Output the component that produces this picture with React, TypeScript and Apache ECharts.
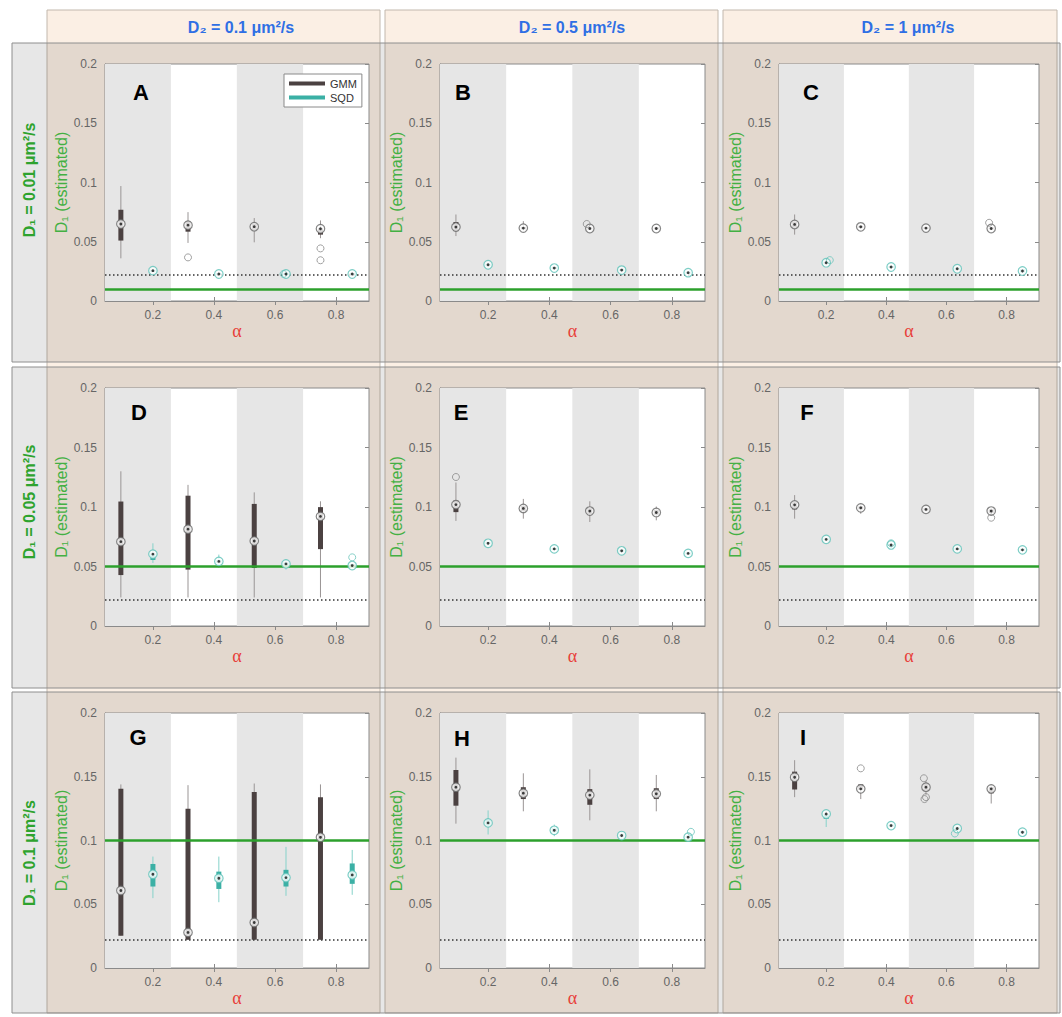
import React, { useEffect, useRef } from 'react';
import * as echarts from 'echarts';

// ---------- data ----------
const alphaTicks = [0.2, 0.4, 0.6, 0.8];
const alphaMin = 0.043;
const alphaMax = 0.908;
const bandEdges = [0.043, 0.259, 0.475, 0.692, 0.908];
const gmmAlpha = [0.095, 0.315, 0.532, 0.749];
const sqdAlpha = [0.2, 0.416, 0.636, 0.853];
const trueD1 = [0.01, 0.05, 0.1];
const lowerBound = 0.0222;
const colHeaders = ['D₂ = 0.1 μm²/s', 'D₂ = 0.5 μm²/s', 'D₂ = 1 μm²/s'];
const rowHeaders = ['D₁ = 0.01 μm²/s', 'D₁ = 0.05 μm²/s', 'D₁ = 0.1 μm²/s'];
const panelLetters = ['A', 'B', 'C', 'D', 'E', 'F', 'G', 'H', 'I'];
const legendNames = ['GMM', 'SQD'];

// each box: [low whisker, q1, median, q3, high whisker]
const gmmA = [[0.036, 0.051, 0.065, 0.077, 0.097], [0.049, 0.0585, 0.064, 0.067, 0.075], [0.0495, 0.06, 0.0627, 0.065, 0.07], [0.053, 0.056, 0.061, 0.0615, 0.068]];
const sqdA = [[0.024, 0.0248, 0.0256, 0.0262, 0.027], [0.0225, 0.0226, 0.0228, 0.023, 0.0232], [0.0225, 0.0226, 0.0228, 0.023, 0.0232], [0.0225, 0.0226, 0.0228, 0.023, 0.0232]];
const gmmOutA = [[0.315, 0.0368], [0.749, 0.0444], [0.749, 0.0344]];
const sqdOutA = [[0.628, 0.0228]];

const gmmB = [[0.0548, 0.059, 0.0624, 0.0666, 0.073], [0.0595, 0.0605, 0.0615, 0.0625, 0.0674], [0.0598, 0.0605, 0.0612, 0.062, 0.0628], [0.0598, 0.0605, 0.0612, 0.062, 0.0628]];
const sqdB = [[0.0295, 0.03, 0.0306, 0.031, 0.0316], [0.0268, 0.0273, 0.0278, 0.0283, 0.0288], [0.0252, 0.0256, 0.0261, 0.0266, 0.027], [0.023, 0.0235, 0.0239, 0.0243, 0.0247]];
const gmmOutB = [[0.522, 0.065]];
const sqdOutB: number[][] = [];

const gmmC = [[0.056, 0.062, 0.0646, 0.067, 0.073], [0.0608, 0.0618, 0.0626, 0.0634, 0.0642], [0.0598, 0.0607, 0.0615, 0.0622, 0.063], [0.0598, 0.0605, 0.0612, 0.062, 0.0628]];
const sqdC = [[0.031, 0.0316, 0.0323, 0.033, 0.0336], [0.0276, 0.0281, 0.0287, 0.0293, 0.0298], [0.0262, 0.0267, 0.0272, 0.0277, 0.0282], [0.0237, 0.0242, 0.0253, 0.0265, 0.027]];
const gmmOutC = [[0.742, 0.066]];
const sqdOutC = [[0.212, 0.0345]];

const gmmD = [[0.024, 0.0428, 0.0709, 0.1046, 0.13], [0.024, 0.0474, 0.0814, 0.1095, 0.1186], [0.024, 0.0488, 0.0714, 0.1026, 0.1123], [0.024, 0.0646, 0.0921, 0.0999, 0.1048]];
const sqdD = [[0.053, 0.0555, 0.0604, 0.0608, 0.0695], [0.049, 0.053, 0.0543, 0.0555, 0.06], [0.0474, 0.051, 0.0522, 0.0535, 0.0557], [0.049, 0.0495, 0.0508, 0.052, 0.053]];
const gmmOutD: number[][] = [];
const sqdOutD = [[0.853, 0.0577]];

const gmmE = [[0.0883, 0.0957, 0.102, 0.1054, 0.1206], [0.0902, 0.0965, 0.0988, 0.101, 0.1068], [0.0874, 0.094, 0.0966, 0.099, 0.1048], [0.0888, 0.0935, 0.0954, 0.0975, 0.1004]];
const sqdE = [[0.0675, 0.069, 0.0695, 0.07, 0.0715], [0.063, 0.064, 0.0648, 0.0655, 0.0665], [0.0615, 0.0625, 0.0632, 0.064, 0.065], [0.0595, 0.0603, 0.061, 0.0617, 0.0625]];
const gmmOutE = [[0.095, 0.1252]];
const sqdOutE: number[][] = [];

const gmmF = [[0.0902, 0.098, 0.1018, 0.104, 0.11], [0.0943, 0.098, 0.0993, 0.1005, 0.1026], [0.0955, 0.097, 0.098, 0.099, 0.1005], [0.0935, 0.095, 0.0966, 0.098, 0.0995]];
const sqdF = [[0.0715, 0.072, 0.0728, 0.0735, 0.0742], [0.066, 0.0672, 0.0681, 0.069, 0.07], [0.0635, 0.0642, 0.0648, 0.0655, 0.066], [0.0628, 0.0634, 0.064, 0.0646, 0.0652]];
const gmmOutF = [[0.749, 0.091]];
const sqdOutF = [[0.416, 0.0695]];

const gmmG = [[0.0253, 0.0253, 0.0608, 0.1405, 0.144], [0.0222, 0.0222, 0.0279, 0.125, 0.1434], [0.0222, 0.0222, 0.0357, 0.138, 0.1447], [0.0222, 0.0222, 0.1025, 0.134, 0.144]];
const sqdG = [[0.0548, 0.0639, 0.0735, 0.0816, 0.0874], [0.0516, 0.062, 0.0704, 0.0756, 0.0874], [0.0566, 0.0639, 0.0709, 0.077, 0.095], [0.0574, 0.066, 0.073, 0.082, 0.0926]];
const gmmOutG: number[][] = [];
const sqdOutG: number[][] = [];

const gmmH = [[0.1132, 0.1273, 0.1418, 0.1553, 0.165], [0.1229, 0.1325, 0.1371, 0.1418, 0.1527], [0.1158, 0.128, 0.1356, 0.1403, 0.1558], [0.1229, 0.1325, 0.1366, 0.141, 0.1514]];
const sqdH = [[0.1047, 0.1117, 0.1138, 0.1164, 0.1236], [0.1034, 0.1065, 0.108, 0.1095, 0.1125], [0.1015, 0.103, 0.1039, 0.1048, 0.107], [0.1008, 0.1018, 0.1026, 0.1035, 0.1045]];
const gmmOutH: number[][] = [];
const sqdOutH = [[0.862, 0.1068]];

const gmmI = [[0.134, 0.14, 0.1496, 0.154, 0.163], [0.1325, 0.1397, 0.1405, 0.144, 0.144], [0.136, 0.139, 0.1418, 0.1445, 0.147], [0.129, 0.137, 0.1405, 0.142, 0.1436]];
const sqdI = [[0.1106, 0.117, 0.1208, 0.121, 0.123], [0.11, 0.1108, 0.1117, 0.1125, 0.1133], [0.1075, 0.1085, 0.1094, 0.1103, 0.1112], [0.1048, 0.1058, 0.1065, 0.1072, 0.108]];
const gmmOutI = [[0.315, 0.1566], [0.525, 0.1488], [0.532, 0.134], [0.527, 0.1325]];
const sqdOutI = [[0.628, 0.1055]];

const gmmAll = [gmmA, gmmB, gmmC, gmmD, gmmE, gmmF, gmmG, gmmH, gmmI];
const sqdAll = [sqdA, sqdB, sqdC, sqdD, sqdE, sqdF, sqdG, sqdH, sqdI];
const gmmOutAll = [gmmOutA, gmmOutB, gmmOutC, gmmOutD, gmmOutE, gmmOutF, gmmOutG, gmmOutH, gmmOutI];
const sqdOutAll = [sqdOutA, sqdOutB, sqdOutC, sqdOutD, sqdOutE, sqdOutF, sqdOutG, sqdOutH, sqdOutI];

// ---------- layout / style ----------
const gridLeft = [105, 440, 779];
const gridWidth = [264, 265, 260];
const gridTop = [64, 388, 713];
const gridHeight = [237, 238, 255];
const colRects = [[47, 333], [385, 333], [723, 334]];
const rowRects = [[43, 319], [367, 321], [692, 321]];
const letterPos = [[141, 92], [463, 92], [811, 92], [139, 412], [461, 412], [807, 412], [138, 737], [462, 738], [803, 737]];
const rowLabelY = [180, 502, 853];
const colHeaderX = [241, 572, 908];

const GMM_COLOR = '#4b4141';
const GMM_WHISKER = '#9a9595';
const GMM_RING = '#666666';
const SQD_COLOR = '#3bb0a5';
const SQD_WHISKER = '#86d2ca';
const SQD_RING = '#5cc2b8';
const SANS = '"Liberation Sans", Arial, Helvetica, sans-serif';

const renderBody = (boxColor: string, whiskerColor: string) => (_p: any, api: any) => {
  const x = api.value(0);
  const lo = api.coord([x, api.value(1)]);
  const q1 = api.coord([x, api.value(2)]);
  const q3 = api.coord([x, api.value(4)]);
  const hi = api.coord([x, api.value(5)]);
  const bw = 5;
  const raw = q1[1] - q3[1];
  const h = Math.max(raw, 2);
  return {
    type: 'group',
    children: [
      { type: 'line', z2: 1, shape: { x1: lo[0], y1: lo[1], x2: hi[0], y2: hi[1] }, style: { stroke: whiskerColor, lineWidth: 1 } },
      { type: 'rect', z2: 2, shape: { x: q3[0] - bw / 2, y: q3[1] - (h - raw) / 2, width: bw, height: h }, style: { fill: boxColor } },
    ],
  };
};

function buildOption() {
  const grid: any[] = [];
  const xAxis: any[] = [];
  const yAxis: any[] = [];
  const series: any[] = [];
  const graphic: any[] = [];

  colRects.forEach(([x, w]) => {
    graphic.push({ type: 'rect', z: -20, silent: true, shape: { x, y: 10, width: w, height: 1003 }, style: { fill: '#fbefe4', stroke: '#c2b8ad', lineWidth: 1 } });
  });
  rowRects.forEach(([y, h]) => {
    graphic.push({ type: 'rect', z: -10, silent: true, shape: { x: 12, y, width: 1048, height: h }, style: { fill: 'rgba(0,0,0,0.095)', stroke: '#8e8e8e', lineWidth: 1 } });
  });
  colHeaders.forEach((t, c) => {
    graphic.push({ type: 'text', z: 50, x: colHeaderX[c], y: 27, style: { text: t, fill: '#2f6fe4', font: `bold 16px ${SANS}`, align: 'center', verticalAlign: 'middle' } });
  });
  rowHeaders.forEach((t, r) => {
    graphic.push({ type: 'text', z: 50, x: 29, y: rowLabelY[r], rotation: Math.PI / 2, style: { text: t, fill: '#2ea32e', font: `bold 16px ${SANS}`, align: 'center', verticalAlign: 'middle' } });
  });

  for (let i = 0; i < 9; i++) {
    const r = Math.floor(i / 3);
    const c = i % 3;
    grid.push({ left: gridLeft[c], top: gridTop[r], width: gridWidth[c], height: gridHeight[r], show: true, backgroundColor: '#ffffff', borderColor: '#8a8a8a', borderWidth: 1 });
    graphic.push({ type: 'text', z: 60, x: letterPos[i][0], y: letterPos[i][1], style: { text: panelLetters[i], fill: '#000', font: `bold 22px ${SANS}`, align: 'center', verticalAlign: 'middle' } });
  }

  const tickStyle = { show: true, inside: true, length: 4, lineStyle: { color: '#8a8a8a' } };
  for (let i = 0; i < 9; i++) {
    xAxis.push({
      gridIndex: i, type: 'value', min: alphaMin, max: alphaMax, position: 'bottom',
      axisLine: { show: true, lineStyle: { color: '#8a8a8a' } },
      axisTick: { ...tickStyle, customValues: alphaTicks },
      axisLabel: { customValues: alphaTicks, color: '#666', fontSize: 12, margin: 8, fontFamily: SANS },
      splitLine: { show: false },
      name: 'α', nameLocation: 'middle', nameGap: 18,
      nameTextStyle: { color: '#e8403a', fontSize: 18, fontFamily: '"Liberation Serif", "DejaVu Serif", serif' },
    });
  }
  for (let i = 0; i < 9; i++) {
    xAxis.push({
      gridIndex: i, type: 'value', min: alphaMin, max: alphaMax, position: 'top',
      axisLine: { show: false }, axisTick: { ...tickStyle, customValues: alphaTicks },
      axisLabel: { show: false }, splitLine: { show: false },
    });
  }
  for (let i = 0; i < 9; i++) {
    yAxis.push({
      gridIndex: i, type: 'value', min: 0, max: 0.2, interval: 0.05, position: 'left',
      axisLine: { show: true, lineStyle: { color: '#8a8a8a' } },
      axisTick: tickStyle,
      axisLabel: { color: '#666', fontSize: 12, margin: 8, fontFamily: SANS },
      splitLine: { show: false },
      name: 'D₁ (estimated)', nameLocation: 'middle', nameGap: 30, nameRotate: 90,
      nameTextStyle: { color: '#43b043', fontSize: 16, fontFamily: SANS },
    });
  }
  for (let i = 0; i < 9; i++) {
    yAxis.push({
      gridIndex: i, type: 'value', min: 0, max: 0.2, interval: 0.05, position: 'right',
      axisLine: { show: false }, axisTick: tickStyle, axisLabel: { show: false }, splitLine: { show: false },
    });
  }

  for (let i = 0; i < 9; i++) {
    const r = Math.floor(i / 3);
    const ax = { xAxisIndex: i, yAxisIndex: i };
    series.push({
      type: 'line', ...ax, data: [], z: 1, silent: true,
      markArea: {
        silent: true, itemStyle: { color: '#e6e6e6' },
        data: [[{ xAxis: bandEdges[0] }, { xAxis: bandEdges[1] }], [{ xAxis: bandEdges[2] }, { xAxis: bandEdges[3] }]],
      },
    });
    series.push({
      type: 'custom', name: 'GMM', ...ax, z: 3, silent: true, itemStyle: { color: GMM_COLOR },
      encode: { x: 0, y: [1, 2, 3, 4, 5] },
      data: gmmAll[i].map((b, k) => [gmmAlpha[k], ...b]),
      renderItem: renderBody(GMM_COLOR, GMM_WHISKER),
    });
    series.push({
      type: 'custom', name: 'SQD', ...ax, z: 3, silent: true, itemStyle: { color: SQD_COLOR },
      encode: { x: 0, y: [1, 2, 3, 4, 5] },
      data: sqdAll[i].map((b, k) => [sqdAlpha[k], ...b]),
      renderItem: renderBody(SQD_COLOR, SQD_WHISKER),
    });
    series.push({
      type: 'line', ...ax, data: [], z: 4, silent: true,
      markLine: {
        silent: true, precision: 5, symbol: ['none', 'none'], label: { show: false }, emphasis: { disabled: true },
        data: [
          { yAxis: trueD1[r], lineStyle: { color: '#2ca02c', width: 2.5, type: 'solid' } },
          { yAxis: lowerBound, lineStyle: { color: '#333', width: 1.5, type: [1.5, 2.5] } },
        ],
      },
    });
    // median markers: white ring + black centre dot
    series.push({
      type: 'scatter', name: 'GMM median', ...ax, z: 5, silent: true, symbol: 'circle', symbolSize: 8.5,
      itemStyle: { color: '#ffffff', borderColor: GMM_RING, borderWidth: 1.2 },
      data: gmmAll[i].map((b, k) => [gmmAlpha[k], b[2]]),
    });
    series.push({
      type: 'scatter', name: 'SQD median', ...ax, z: 5, silent: true, symbol: 'circle', symbolSize: 8.5,
      itemStyle: { color: '#ffffff', borderColor: SQD_RING, borderWidth: 1.2 },
      data: sqdAll[i].map((b, k) => [sqdAlpha[k], b[2]]),
    });
    series.push({
      type: 'scatter', name: 'median dot', ...ax, z: 6, silent: true, symbol: 'circle', symbolSize: 2.8,
      itemStyle: { color: '#111111' },
      data: [...gmmAll[i].map((b, k) => [gmmAlpha[k], b[2]]), ...sqdAll[i].map((b, k) => [sqdAlpha[k], b[2]])],
    });
    series.push({
      type: 'scatter', name: 'GMM outliers', ...ax, z: 5, silent: true, symbol: 'circle', symbolSize: 7,
      itemStyle: { color: 'rgba(0,0,0,0)', borderColor: '#8a8a8a', borderWidth: 1 },
      data: gmmOutAll[i],
    });
    series.push({
      type: 'scatter', name: 'SQD outliers', ...ax, z: 5, silent: true, symbol: 'circle', symbolSize: 7,
      itemStyle: { color: 'rgba(0,0,0,0)', borderColor: '#6cc5bb', borderWidth: 1 },
      data: sqdOutAll[i],
    });
  }

  return {
    animation: false,
    backgroundColor: '#ffffff',
    grid, xAxis, yAxis, series, graphic,
    legend: {
      data: legendNames, left: 284, top: 74, orient: 'vertical', selectedMode: false,
      icon: 'rect', itemWidth: 36, itemHeight: 4, itemGap: 3, padding: [4, 5],
      backgroundColor: '#ffffff', borderColor: '#8a8a8a', borderWidth: 1,
      textStyle: { fontSize: 11, color: '#333', fontFamily: SANS },
    },
  };
}

export default function App() {
  const ref = useRef<HTMLDivElement>(null);
  useEffect(() => {
    if (!ref.current) return;
    const chart = echarts.init(ref.current, undefined, { renderer: 'svg' });
    chart.setOption(buildOption() as any);
    return () => chart.dispose();
  }, []);
  return <div ref={ref} style={{ position: 'absolute', left: 0, top: 0, width: 1062, height: 1017 }} />;
}
